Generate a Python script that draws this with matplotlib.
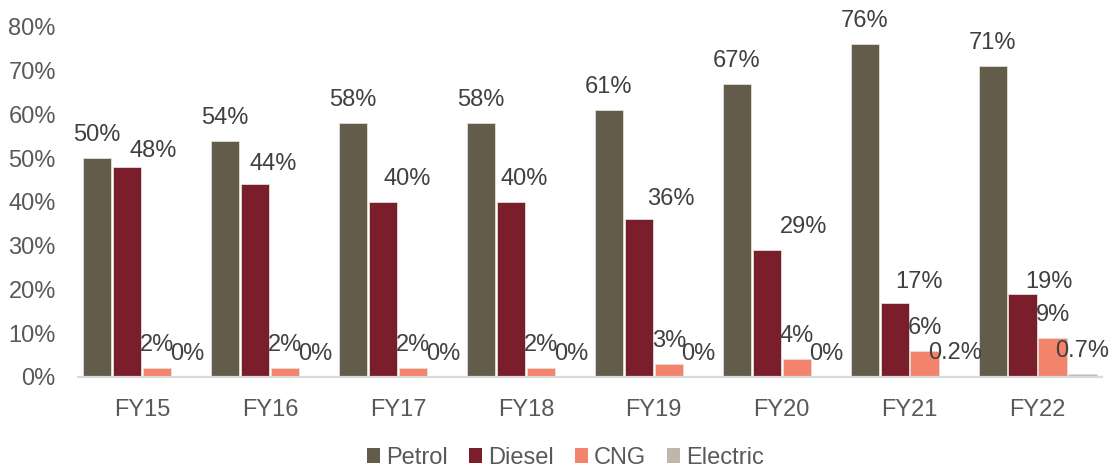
import matplotlib.pyplot as plt
import numpy as np

# fuel mix of sales, % share by year
years = ['FY15', 'FY16', 'FY17', 'FY18', 'FY19', 'FY20', 'FY21', 'FY22']
petrol = [50, 54, 58, 58, 61, 67, 76, 71]
diesel = [48, 44, 40, 40, 36, 29, 17, 19]
cng = [2, 2, 2, 2, 3, 4, 6, 9]
electric = [0, 0, 0, 0, 0, 0, 0.2, 0.7]

series = [('Petrol', petrol, '#635C4A'),
          ('Diesel', diesel, '#7A1E2B'),
          ('CNG', cng, '#F3836A'),
          ('Electric', electric, '#C0B7AA')]

# diesel labels were nudged sideways so they clear the petrol bars (pixels)
diesel_dx = [26, 18, 24, 13, 32, 37, 24, 26]
diesel_dy = [10, 14, 17, 17, 14, 17, 15, 6]

plt.rcParams['font.family'] = ['Liberation Sans', 'DejaVu Sans']

fig = plt.figure(figsize=(11.15, 4.72), dpi=100)
ax = fig.add_axes([0.07, 0.2013, 0.918, 0.742])

x = np.arange(len(years))
step = 0.234
for i, (name, vals, col) in enumerate(series):
    pos = x + (i - 1.5) * step
    ax.bar(pos, vals, width=0.222, color=col, edgecolor='#e2ded8',
           linewidth=0.6, label=name)
    for j, v in enumerate(vals):
        dx, dy = 0, 17
        if name == 'Diesel':
            dx, dy = diesel_dx[j], diesel_dy[j]
        ax.annotate(f'{v:g}%', (pos[j], v), xytext=(dx, dy),
                    textcoords='offset pixels', ha='center', va='baseline',
                    fontsize=17, color='#404040')

ax.set_xlim(-0.5, len(years) - 0.5)
ax.set_ylim(0, 80)
ax.set_xticks(x)
ax.set_xticklabels(years)
ax.set_yticks(range(0, 81, 10))
ax.set_yticklabels([f'{t}%' for t in range(0, 81, 10)])
ax.tick_params(axis='both', length=0, labelsize=17, colors='#595959')
ax.tick_params(axis='x', pad=16)
ax.tick_params(axis='y', pad=16)

for s in ['top', 'right', 'left']:
    ax.spines[s].set_visible(False)
ax.spines['bottom'].set_color('#d9d9d9')
ax.spines['bottom'].set_linewidth(1.6)

leg = fig.legend(loc='center', bbox_to_anchor=(0.507, 0.03), ncol=4,
                 frameon=False, fontsize=17, handlelength=0.55,
                 handleheight=0.55, handletextpad=0.25, columnspacing=0.9)
for t in leg.get_texts():
    t.set_color('#595959')
for h in leg.legend_handles:
    h.set_linewidth(0)

fig.savefig('out.png', dpi=100)
